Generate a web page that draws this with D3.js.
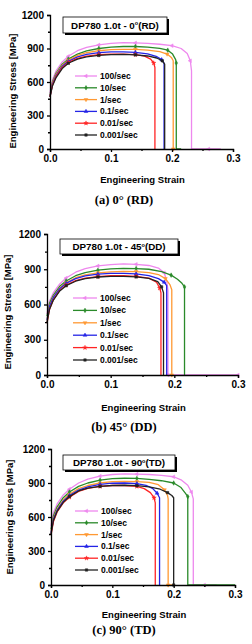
<!DOCTYPE html>
<html>
<head>
<meta charset="utf-8">
<script src="https://cdn.jsdelivr.net/npm/d3@7"></script>
<style>
  body { margin: 0; background: #fff; }
  svg { display: block; }
</style>
</head>
<body>
<svg id="chart" width="252" height="644"></svg>
<script>
// strain rates, colours and tick labels
const rates = ["100/sec", "10/sec", "1/sec", "0.1/sec", "0.01/sec", "0.001/sec"];
const colors = ["#ee88ee", "#2a8a2a", "#ff9933", "#2424e6", "#ff2424", "#222222"];
const yTicks = [0, 300, 600, 900, 1200];
const xTicks = [0, 0.1, 0.2, 0.3];

// (a) 0 deg (RD)  [strain, stress MPa]
const rd100 = [[0,500],[0.004,620],[0.01,700],[0.02,780],[0.03,830],[0.045,880],[0.06,910],[0.08,932],[0.1,945],[0.12,952],[0.14,950],[0.16,946],[0.18,938],[0.2,925],[0.215,900],[0.225,855],[0.23,790],[0.232,700],[0.232,0],[0.26,0],[0.28,0]];
const rd10 = [[0,480],[0.004,600],[0.01,680],[0.02,760],[0.03,805],[0.045,850],[0.06,878],[0.08,900],[0.1,912],[0.12,918],[0.14,918],[0.16,912],[0.18,902],[0.193,885],[0.201,850],[0.206,800],[0.207,770],[0.207,0],[0.215,0]];
const rd1 = [[0,470],[0.004,590],[0.01,670],[0.02,750],[0.03,795],[0.045,838],[0.06,862],[0.08,880],[0.1,890],[0.12,893],[0.14,892],[0.16,886],[0.18,872],[0.192,850],[0.199,820],[0.202,790],[0.202,0]];
const rd01 = [[0,470],[0.004,580],[0.01,660],[0.02,740],[0.03,785],[0.045,825],[0.06,848],[0.08,863],[0.1,870],[0.12,870],[0.14,865],[0.16,852],[0.174,830],[0.183,800],[0.187,770],[0.187,0]];
const rd001 = [[0,470],[0.004,570],[0.01,650],[0.02,730],[0.03,775],[0.045,812],[0.06,832],[0.08,845],[0.1,850],[0.12,850],[0.14,845],[0.155,832],[0.165,805],[0.17,770],[0.172,730],[0.172,0]];
const rd0001 = [[0,465],[0.004,565],[0.01,640],[0.02,720],[0.03,768],[0.045,805],[0.06,825],[0.08,838],[0.1,845],[0.12,847],[0.14,843],[0.16,833],[0.175,815],[0.184,790],[0.188,760],[0.188,0]];

// (b) 45 deg (DD)
const dd100 = [[0,520],[0.004,630],[0.01,700],[0.02,775],[0.03,825],[0.045,875],[0.06,905],[0.08,928],[0.1,940],[0.12,945],[0.14,942],[0.16,932],[0.175,910],[0.184,870],[0.188,800],[0.19,720],[0.19,0],[0.23,0],[0.27,0],[0.3,0]];
const dd10 = [[0,500],[0.004,610],[0.01,680],[0.02,755],[0.03,800],[0.045,845],[0.06,872],[0.08,892],[0.1,903],[0.12,907],[0.14,906],[0.16,900],[0.18,880],[0.195,850],[0.205,815],[0.212,780],[0.216,750],[0.216,0]];
const dd1 = [[0,470],[0.004,590],[0.01,665],[0.02,740],[0.03,785],[0.045,828],[0.06,853],[0.08,870],[0.1,878],[0.12,882],[0.14,880],[0.16,872],[0.175,855],[0.186,820],[0.193,770],[0.196,725],[0.196,0]];
const dd01 = [[0,470],[0.004,585],[0.01,660],[0.02,735],[0.03,780],[0.045,820],[0.06,843],[0.08,858],[0.1,865],[0.12,865],[0.14,860],[0.16,845],[0.175,820],[0.184,790],[0.188,760],[0.188,0]];
const dd001 = [[0,440],[0.004,560],[0.01,640],[0.02,720],[0.03,765],[0.045,803],[0.06,825],[0.08,838],[0.1,845],[0.12,845],[0.14,840],[0.16,825],[0.172,790],[0.177,740],[0.179,700],[0.179,0]];
const dd0001 = [[0,450],[0.004,560],[0.01,638],[0.02,715],[0.03,760],[0.045,798],[0.06,820],[0.08,834],[0.1,840],[0.12,840],[0.14,835],[0.16,822],[0.174,795],[0.18,750],[0.183,700],[0.183,0]];

// (c) 90 deg (TD)
const td100 = [[0,520],[0.004,640],[0.01,715],[0.02,795],[0.03,845],[0.045,900],[0.06,935],[0.08,960],[0.1,975],[0.12,980],[0.14,978],[0.16,975],[0.18,968],[0.2,955],[0.213,925],[0.223,880],[0.229,820],[0.232,760],[0.232,0],[0.25,0],[0.27,0]];
const td10 = [[0,490],[0.004,610],[0.01,690],[0.02,770],[0.03,820],[0.045,870],[0.06,900],[0.08,925],[0.1,938],[0.12,942],[0.14,940],[0.16,932],[0.18,920],[0.2,900],[0.212,860],[0.219,810],[0.223,780],[0.223,0],[0.3,0]];
const td1 = [[0,470],[0.004,590],[0.01,670],[0.02,750],[0.03,800],[0.045,850],[0.06,878],[0.08,900],[0.1,912],[0.12,915],[0.14,912],[0.16,905],[0.175,885],[0.185,840],[0.19,790],[0.191,760],[0.191,0],[0.2,0]];
const td01 = [[0,460],[0.004,580],[0.01,660],[0.02,740],[0.03,790],[0.045,838],[0.06,865],[0.08,888],[0.1,898],[0.12,900],[0.14,895],[0.155,880],[0.166,850],[0.173,810],[0.177,770],[0.177,0]];
const td001 = [[0,440],[0.004,560],[0.01,645],[0.02,725],[0.03,775],[0.045,825],[0.06,852],[0.08,870],[0.1,878],[0.12,878],[0.14,870],[0.152,850],[0.162,815],[0.168,770],[0.17,725],[0.17,0]];
const td0001 = [[0,450],[0.004,570],[0.01,650],[0.02,730],[0.03,780],[0.045,830],[0.06,855],[0.08,870],[0.1,878],[0.12,880],[0.14,876],[0.16,866],[0.178,845],[0.19,815],[0.197,790],[0.2,770],[0.2,0]];

// layout of the three stacked panels
const panels = [
  { title: ["DP780 1.0t - 0", "(RD)"], caption: "(a) 0° (RD)",
    curves: [rd100, rd10, rd1, rd01, rd001, rd0001],
    left: 50, right: 233, top: 15, bottom: 149,
    box: [63, 17, 104, 16], leg: { x1: 75, x2: 97, y0: 76, dy: 11.8 },
    yTitle: [13, 91], xTitleY: 183, capY: 204 },
  { title: ["DP780 1.0t - 45", "(DD)"], caption: "(b) 45° (DD)",
    curves: [dd100, dd10, dd1, dd01, dd001, dd0001],
    left: 47, right: 238, top: 234, bottom: 375,
    box: [60, 239, 118, 15], leg: { x1: 73, x2: 97, y0: 298, dy: 12.4 },
    yTitle: [8, 312], xTitleY: 411, capY: 431 },
  { title: ["DP780 1.0t - 90", "(TD)"], caption: "(c) 90° (TD)",
    curves: [td100, td10, td1, td01, td001, td0001],
    left: 51, right: 235, top: 449, bottom: 585,
    box: [63, 455, 112, 15], leg: { x1: 75, x2: 98, y0: 511, dy: 11.8 },
    yTitle: [10, 517], xTitleY: 618, capY: 634 }
];

const sans = "'Liberation Sans', Arial, sans-serif";
const serif = "'Liberation Serif', 'Times New Roman', serif";

// marker shapes: left triangle, diamond, down triangle, up triangle, star, square
const markerDefs = [
  { type: d3.symbolTriangle, rot: -90 },
  { type: d3.symbolDiamond, rot: 0 },
  { type: d3.symbolTriangle, rot: 180 },
  { type: d3.symbolTriangle, rot: 0 },
  { type: d3.symbolStar, rot: 0 },
  { type: d3.symbolSquare, rot: 0 }
];

const svg = d3.select("#chart");

panels.forEach(p => {
  const x = d3.scaleLinear().domain([0, 0.3]).range([p.left, p.right]);
  const y = d3.scaleLinear().domain([0, 1200]).range([p.bottom, p.top]);
  const g = svg.append("g");

  // curves
  const line = d3.line().x(d => x(d[0])).y(d => y(d[1]));
  p.curves.forEach((c, i) => {
    g.append("path")
      .datum(c)
      .attr("fill", "none")
      .attr("stroke", colors[i])
      .attr("stroke-width", 1.3)
      .attr("stroke-linejoin", "round")
      .attr("d", line);
    const sym = d3.symbol().type(markerDefs[i].type).size(6);
    g.selectAll(null)
      .data(c.filter((d, k) => k % 3 === 1 && k > 3))
      .join("path")
      .attr("d", sym)
      .attr("transform", d => `translate(${x(d[0])},${y(d[1])}) rotate(${markerDefs[i].rot})`)
      .attr("fill", colors[i])
      .attr("stroke", colors[i])
      .attr("stroke-width", 0.5);
  });

  // axes
  g.append("g")
    .attr("transform", `translate(${p.left},0)`)
    .call(d3.axisLeft(y).tickValues(yTicks).tickSize(3).tickPadding(3).tickFormat(d3.format("d")));
  g.append("g")
    .attr("transform", `translate(${p.left},0)`)
    .call(d3.axisLeft(y).tickValues(d3.range(150, 1200, 300)).tickSize(2).tickFormat(""))
    .select(".domain").remove();
  g.append("g")
    .attr("transform", `translate(0,${p.bottom})`)
    .call(d3.axisBottom(x).tickValues(xTicks).tickSize(3).tickPadding(3).tickFormat(d3.format(".1f")));
  g.append("g")
    .attr("transform", `translate(0,${p.bottom})`)
    .call(d3.axisBottom(x).tickValues([0.05, 0.15, 0.25]).tickSize(2).tickFormat(""))
    .select(".domain").remove();
  g.selectAll(".domain, .tick line").attr("stroke", "#000").attr("stroke-width", 1.3);
  g.selectAll(".tick text")
    .attr("fill", "#000")
    .style("font-family", sans)
    .style("font-weight", "bold")
    .style("font-size", "10px");

  // axis titles
  g.append("text")
    .attr("transform", `translate(${p.yTitle[0]},${p.yTitle[1]}) rotate(-90)`)
    .attr("text-anchor", "middle")
    .attr("dy", "0.35em")
    .style("font-family", sans).style("font-weight", "bold").style("font-size", "9.5px")
    .text("Engineering Stress [MPa]");
  g.append("text")
    .attr("x", (p.left + p.right) / 2 + 1)
    .attr("y", p.xTitleY)
    .attr("text-anchor", "middle")
    .style("font-family", sans).style("font-weight", "bold").style("font-size", "9.5px")
    .text("Engineering Strain");
  g.append("text")
    .attr("x", 124)
    .attr("y", p.capY)
    .attr("text-anchor", "middle")
    .style("font-family", serif).style("font-weight", "bold").style("font-size", "12.5px")
    .text(p.caption);

  // title box with shadow
  const [bx, by, bw, bh] = p.box;
  g.append("rect").attr("x", bx + 2).attr("y", by + 2).attr("width", bw).attr("height", bh).attr("fill", "#000");
  g.append("rect").attr("x", bx).attr("y", by).attr("width", bw).attr("height", bh)
    .attr("fill", "#fff").attr("stroke", "#000").attr("stroke-width", 0.8);
  const t = g.append("text")
    .attr("x", bx + bw / 2)
    .attr("y", by + bh / 2 + 3.5)
    .attr("text-anchor", "middle")
    .style("font-family", sans).style("font-weight", "bold").style("font-size", "9.8px");
  t.append("tspan").text(p.title[0]);
  t.append("tspan").attr("dy", -3.5).style("font-size", "5.5px").text("o");
  t.append("tspan").attr("dy", 3.5).text(p.title[1]);

  // legend
  rates.forEach((r, i) => {
    const ly = p.leg.y0 + i * p.leg.dy;
    g.append("line")
      .attr("x1", p.leg.x1).attr("x2", p.leg.x2)
      .attr("y1", ly).attr("y2", ly)
      .attr("stroke", colors[i]).attr("stroke-width", 1.3);
    g.append("path")
      .attr("d", d3.symbol().type(markerDefs[i].type).size(6))
      .attr("transform", `translate(${(p.leg.x1 + p.leg.x2) / 2},${ly}) rotate(${markerDefs[i].rot})`)
      .attr("fill", colors[i]).attr("stroke", colors[i]).attr("stroke-width", 0.5);
    g.append("text")
      .attr("x", p.leg.x2 + 3)
      .attr("y", ly)
      .attr("dy", "0.35em")
      .style("font-family", sans).style("font-weight", "bold").style("font-size", "8.5px")
      .text(r);
  });
});
</script>
</body>
</html>
